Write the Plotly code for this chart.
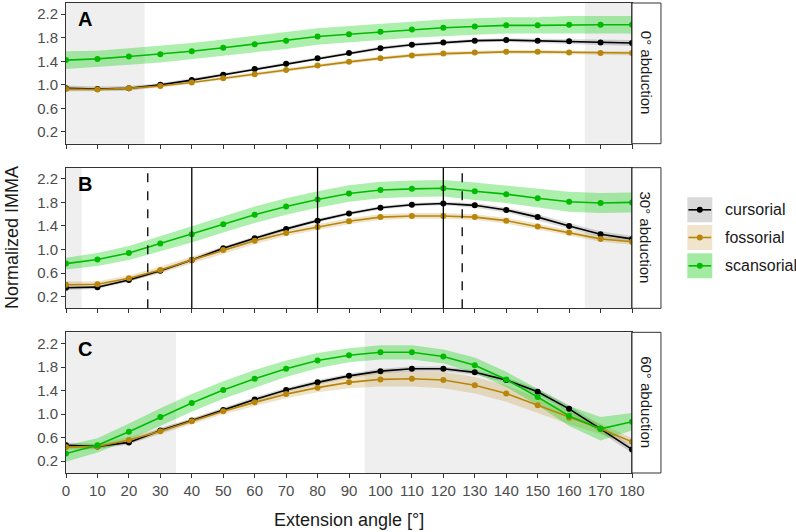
import plotly.graph_objects as go
from plotly.subplots import make_subplots

angles = [0, 10, 20, 30, 40, 50, 60, 70, 80, 90, 100, 110, 120, 130, 140, 150, 160, 170, 180]
groups = ["cursorial", "fossorial", "scansorial"]
panel_labels = ["A", "B", "C"]
strip_labels = ["0° abduction", "30° abduction", "60° abduction"]

# Panel A (0° abduction)
cursorial_A = [0.94, 0.93, 0.94, 1.00, 1.08, 1.17, 1.27, 1.36, 1.45, 1.54, 1.62, 1.68, 1.72, 1.75, 1.76, 1.75, 1.74, 1.72, 1.71]
fossorial_A = [0.93, 0.92, 0.94, 0.98, 1.04, 1.11, 1.18, 1.25, 1.33, 1.39, 1.45, 1.50, 1.53, 1.55, 1.56, 1.56, 1.55, 1.54, 1.54]
scansorial_A = [1.42, 1.44, 1.48, 1.52, 1.57, 1.63, 1.69, 1.75, 1.82, 1.86, 1.90, 1.94, 1.97, 1.99, 2.01, 2.01, 2.02, 2.02, 2.02]
se_cursorial_A = [0.05, 0.04, 0.04, 0.03, 0.03, 0.03, 0.03, 0.03, 0.03, 0.03, 0.03, 0.03, 0.03, 0.03, 0.03, 0.03, 0.04, 0.04, 0.05]
se_fossorial_A = [0.04, 0.03, 0.03, 0.03, 0.03, 0.03, 0.03, 0.03, 0.03, 0.03, 0.03, 0.03, 0.03, 0.03, 0.03, 0.03, 0.03, 0.03, 0.04]
se_scansorial_A = [0.15, 0.14, 0.14, 0.14, 0.14, 0.14, 0.14, 0.14, 0.14, 0.14, 0.14, 0.14, 0.14, 0.14, 0.14, 0.14, 0.15, 0.15, 0.15]

# Panel B (30° abduction)
cursorial_B = [0.35, 0.36, 0.48, 0.64, 0.82, 1.02, 1.19, 1.35, 1.49, 1.61, 1.71, 1.76, 1.78, 1.75, 1.67, 1.55, 1.40, 1.26, 1.18]
fossorial_B = [0.40, 0.41, 0.51, 0.65, 0.82, 0.99, 1.15, 1.28, 1.38, 1.48, 1.55, 1.57, 1.57, 1.55, 1.49, 1.39, 1.29, 1.18, 1.13]
scansorial_B = [0.76, 0.83, 0.94, 1.10, 1.26, 1.43, 1.59, 1.73, 1.85, 1.95, 2.01, 2.03, 2.04, 1.99, 1.94, 1.87, 1.81, 1.79, 1.80]
se_cursorial_B = [0.04, 0.03, 0.03, 0.03, 0.03, 0.03, 0.03, 0.03, 0.03, 0.03, 0.03, 0.03, 0.03, 0.04, 0.04, 0.05, 0.05, 0.05, 0.05]
se_fossorial_B = [0.06, 0.05, 0.05, 0.06, 0.06, 0.06, 0.06, 0.05, 0.05, 0.05, 0.05, 0.05, 0.05, 0.05, 0.05, 0.05, 0.05, 0.05, 0.05]
se_scansorial_B = [0.10, 0.11, 0.12, 0.13, 0.14, 0.14, 0.14, 0.14, 0.14, 0.14, 0.14, 0.14, 0.14, 0.15, 0.15, 0.16, 0.17, 0.17, 0.17]

# Panel C (60° abduction)
cursorial_C = [0.47, 0.45, 0.52, 0.72, 0.89, 1.07, 1.25, 1.41, 1.54, 1.65, 1.73, 1.77, 1.77, 1.71, 1.58, 1.38, 1.09, 0.75, 0.40]
fossorial_C = [0.44, 0.45, 0.56, 0.71, 0.88, 1.05, 1.20, 1.34, 1.45, 1.54, 1.59, 1.60, 1.58, 1.49, 1.35, 1.15, 0.94, 0.75, 0.53]
scansorial_C = [0.33, 0.47, 0.70, 0.95, 1.19, 1.41, 1.60, 1.77, 1.91, 2.00, 2.05, 2.05, 1.98, 1.83, 1.59, 1.29, 0.97, 0.75, 0.87]
se_cursorial_C = [0.05, 0.04, 0.04, 0.04, 0.04, 0.04, 0.04, 0.04, 0.04, 0.04, 0.04, 0.04, 0.04, 0.04, 0.04, 0.05, 0.06, 0.06, 0.06]
se_fossorial_C = [0.05, 0.05, 0.05, 0.05, 0.05, 0.05, 0.06, 0.07, 0.08, 0.10, 0.12, 0.13, 0.14, 0.14, 0.14, 0.13, 0.11, 0.09, 0.06]
se_scansorial_C = [0.14, 0.12, 0.14, 0.15, 0.15, 0.15, 0.15, 0.14, 0.13, 0.12, 0.12, 0.12, 0.12, 0.13, 0.13, 0.14, 0.17, 0.20, 0.15]

# shaded angle ranges per panel
bands_A = [(0, 25), (165, 180)]
bands_B = [(0, 5), (165, 180)]
bands_C = [(0, 35), (95, 180)]
# reference lines in panel B
solid_lines_B = [40, 80, 120]
dashed_lines_B = [26, 126]
end_line = 180

y_ticks = [0.2, 0.6, 1.0, 1.4, 1.8, 2.2]
x_ticks = angles

panels = [
    ([cursorial_A, fossorial_A, scansorial_A], [se_cursorial_A, se_fossorial_A, se_scansorial_A], bands_A),
    ([cursorial_B, fossorial_B, scansorial_B], [se_cursorial_B, se_fossorial_B, se_scansorial_B], bands_B),
    ([cursorial_C, fossorial_C, scansorial_C], [se_cursorial_C, se_fossorial_C, se_scansorial_C], bands_C),
]

line_colors = ["#000000", "#B8860B", "#00BB00"]
ribbon_colors = ["rgba(0,0,0,0.15)", "rgba(184,134,11,0.22)", "rgba(0,205,0,0.32)"]
key_colors = ["#D9D9D9", "#F0E4CD", "#A3EBA3"]

FONT = "Liberation Sans, Arial, Helvetica, sans-serif"

fig = make_subplots(rows=3, cols=1, shared_xaxes=False, vertical_spacing=0.051)

for p, (vals, ses, bands) in enumerate(panels):
    row = p + 1
    # ribbons
    for g in range(3):
        upper = [v + s for v, s in zip(vals[g], ses[g])]
        lower = [v - s for v, s in zip(vals[g], ses[g])]
        fig.add_trace(go.Scatter(
            x=angles + angles[::-1], y=upper + lower[::-1],
            fill="toself", fillcolor=ribbon_colors[g], line=dict(width=0),
            mode="lines", hoverinfo="skip", showlegend=False), row=row, col=1)
    # lines + points
    for g in range(3):
        fig.add_trace(go.Scatter(
            x=angles, y=vals[g], mode="lines+markers", name=groups[g],
            line=dict(color=line_colors[g], width=1.6),
            marker=dict(color=line_colors[g], size=6),
            showlegend=False), row=row, col=1)

    yref = "y" if row == 1 else f"y{row}"
    xref = "x" if row == 1 else f"x{row}"
    for (a0, a1) in bands:
        fig.add_shape(type="rect", xref=xref, yref=f"{yref} domain", x0=a0, x1=a1, y0=0, y1=1,
                      fillcolor="#EFEFEF", line=dict(width=0), layer="below")
    # end line at 180
    fig.add_shape(type="line", xref=xref, yref=f"{yref} domain", x0=end_line, x1=end_line, y0=0, y1=1,
                  line=dict(color="black", width=1.3), layer="above")
    # strip on right
    fig.add_shape(type="rect", xref="paper", yref=f"{yref} domain", x0=1.0, x1=1.0512, y0=0, y1=1,
                  fillcolor="white", line=dict(color="#333333", width=1))
    fig.add_annotation(xref="paper", yref=f"{yref} domain", x=1.0256, y=0.5, text=strip_labels[p],
                       textangle=90, showarrow=False, xanchor="center", yanchor="middle",
                       font=dict(family=FONT, size=15, color="#1A1A1A"))
    # panel letter
    fig.add_annotation(xref=f"{xref} domain", yref=f"{yref} domain", x=0.017, y=0.884,
                       text=f"<b>{panel_labels[p]}</b>", showarrow=False, xanchor="left", yanchor="middle",
                       font=dict(family=FONT, size=20, color="black"))

    fig.update_xaxes(row=row, col=1, range=[0, 180], tickvals=x_ticks,
                     showticklabels=(row == 3), ticks="outside", ticklen=4, tickcolor="#333333",
                     showline=True, mirror=True, linecolor="#333333", linewidth=1,
                     showgrid=False, zeroline=False,
                     tickfont=dict(family=FONT, size=15, color="#4D4D4D"))
    fig.update_yaxes(row=row, col=1, range=[0.0, 2.39], tickvals=y_ticks,
                     ticktext=[f"{t:.1f}" for t in y_ticks],
                     ticks="outside", ticklen=4, tickcolor="#333333",
                     showline=True, mirror=True, linecolor="#333333", linewidth=1,
                     showgrid=False, zeroline=False,
                     tickfont=dict(family=FONT, size=15, color="#4D4D4D"))

# vertical reference lines in panel B
for a in solid_lines_B:
    fig.add_shape(type="line", xref="x2", yref="y2 domain", x0=a, x1=a, y0=0, y1=1,
                  line=dict(color="black", width=1.3), layer="above")
for a in dashed_lines_B:
    fig.add_shape(type="line", xref="x2", yref="y2 domain", x0=a, x1=a, y0=0, y1=1,
                  line=dict(color="black", width=1.3, dash="dash"), layer="above")

# manual legend
key_x0, key_x1 = 1.0977, 1.1419
key_rows = [(0.5334, 0.5866), (0.4745, 0.5277), (0.4143, 0.4674)]
for g, (y0, y1) in enumerate(key_rows):
    yc = (y0 + y1) / 2
    xc = (key_x0 + key_x1) / 2
    fig.add_shape(type="rect", xref="paper", yref="paper", x0=key_x0, x1=key_x1, y0=y0, y1=y1,
                  fillcolor=key_colors[g], line=dict(width=0))
    fig.add_shape(type="line", xref="paper", yref="paper", x0=key_x0 + 0.002, x1=key_x1 - 0.002, y0=yc, y1=yc,
                  line=dict(color=line_colors[g], width=1.6))
    fig.add_shape(type="circle", xref="paper", yref="paper", x0=xc - 0.0053, x1=xc + 0.0053,
                  y0=yc - 0.0064, y1=yc + 0.0064, fillcolor=line_colors[g], line=dict(width=0))
    fig.add_annotation(xref="paper", yref="paper", x=1.1608, y=yc, text=groups[g], showarrow=False,
                       xanchor="left", yanchor="middle", font=dict(family=FONT, size=16, color="#1A1A1A"))

# axis titles
fig.add_annotation(xref="paper", yref="paper", x=0.5, y=-0.1, text="Extension angle [°]", showarrow=False,
                   xanchor="center", yanchor="middle", font=dict(family=FONT, size=18, color="#1A1A1A"))
fig.add_annotation(xref="paper", yref="paper", x=-0.0954, y=0.5, text="Normalized IMMA", showarrow=False,
                   textangle=-90, xanchor="center", yanchor="middle", font=dict(family=FONT, size=18, color="#1A1A1A"))

fig.update_layout(width=796, height=532, margin=dict(l=66, r=164, t=3, b=59),
                  plot_bgcolor="white", paper_bgcolor="white", showlegend=False,
                  font=dict(family=FONT))

fig.write_html("out.html", config={"displayModeBar": False},
               post_script="document.body.style.margin='0px';")
